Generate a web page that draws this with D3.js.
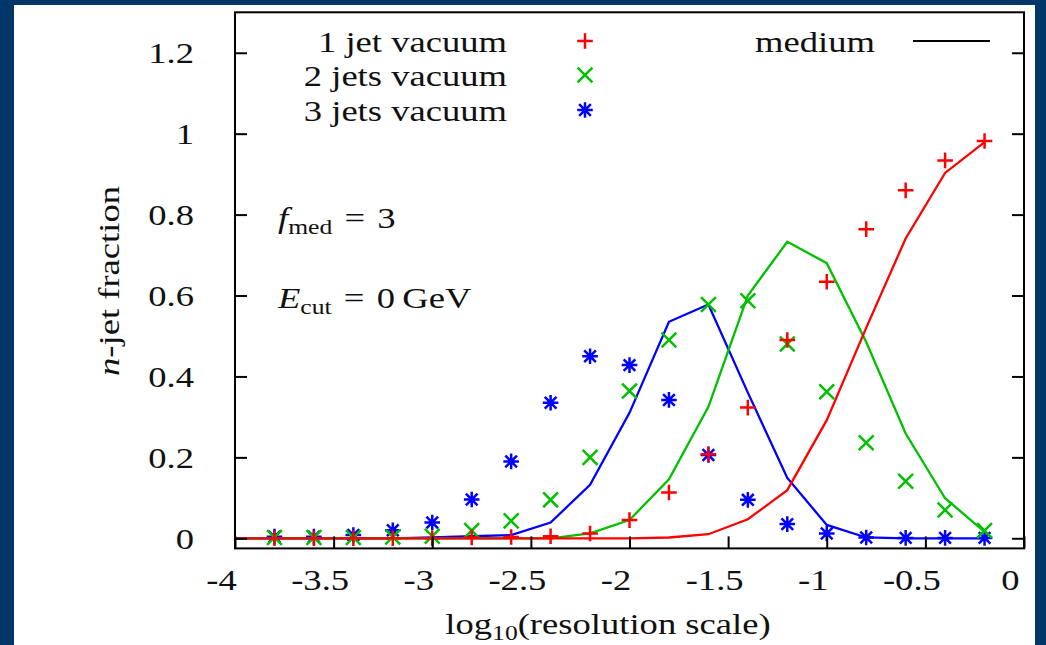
<!DOCTYPE html>
<html><head><meta charset="utf-8">
<script src="https://cdn.jsdelivr.net/npm/d3@7"></script>
<style>
body{margin:0;background:#fff}
svg{display:block}
text{font-family:"Liberation Serif","DejaVu Serif",serif;fill:#111}
</style>
</head><body><script>
// ---- data ----
const xVac = [-3.8,-3.6,-3.4,-3.2,-3.0,-2.8,-2.6,-2.4,-2.2,-2.0,-1.8,-1.6,-1.4,-1.2,-1.0,-0.8,-0.6,-0.4,-0.2];
const oneJetVac    = [0,0,0,0,0,0.002,0.003,0.005,0.012,0.045,0.113,0.208,0.323,0.49,0.634,0.764,0.86,0.934,0.982];
const twoJetsVac   = [0.002,0.002,0.002,0.003,0.005,0.019,0.043,0.095,0.20,0.364,0.49,0.578,0.587,0.48,0.362,0.236,0.141,0.07,0.019];
const threeJetsVac = [0.004,0.004,0.008,0.02,0.039,0.096,0.19,0.335,0.45,0.428,0.342,0.206,0.095,0.035,0.012,0.002,0.001,0.001,0.001];

const xMed = [-4.0,-3.8,-3.6,-3.4,-3.2,-3.0,-2.8,-2.6,-2.4,-2.2,-2.0,-1.8,-1.6,-1.4,-1.2,-1.0,-0.8,-0.6,-0.4,-0.2];
const oneJetMed    = [0,0,0,0,0,0,0,0,0,0,0,0.002,0.01,0.047,0.119,0.292,0.52,0.741,0.903,0.979];
const twoJetsMed   = [0,0,0,0,0,0,0,0,0,0.012,0.045,0.146,0.325,0.60,0.733,0.68,0.485,0.259,0.099,0.016];
const threeJetsMed = [0,0,0,0,0,0.002,0.005,0.008,0.039,0.132,0.31,0.535,0.578,0.36,0.149,0.033,0.002,0,0,0];

const xTicks = [-4,-3.5,-3,-2.5,-2,-1.5,-1,-0.5,0];
const xTickLabels = ["-4","-3.5","-3","-2.5","-2","-1.5","-1","-0.5","0"];
const yTicks = [0,0.2,0.4,0.6,0.8,1,1.2];
const yTickLabels = ["0","0.2","0.4","0.6","0.8","1","1.2"];

const seriesNames = ["1 jet vacuum","2 jets vacuum","3 jets vacuum"];
const colors = ["#ff0000","#00c000","#0000ff"];
const symbols = ["plus","cross","star"];

// ---- layout ----
const W = 1046, H = 645;
const FS = 30, SX = 1.22;
const svg = d3.select("body").append("svg").attr("width",W).attr("height",H);
svg.append("rect").attr("width",W).attr("height",H).attr("fill","#003768");
svg.append("rect").attr("x",14).attr("y",5).attr("width",1021).attr("height",H-5).attr("fill","#fff");

const x = d3.scaleLinear().domain([-4,0]).range([235,1024]);
const y = d3.scaleLinear().domain([-0.025,1.3]).range([548.4,12.3]);

svg.append("defs").append("clipPath").attr("id","clip")
  .append("rect").attr("x",235).attr("y",12.3).attr("width",789).attr("height",536.1);

function stext(parent, px, py, anchor, rot){
  return parent.append("text")
    .attr("transform",`translate(${px},${py})${rot?` rotate(${rot})`:""} scale(${SX},1)`)
    .attr("text-anchor",anchor).attr("font-size",FS);
}

// lines (medium)
const plot = svg.append("g").attr("clip-path","url(#clip)");
const line = d3.line().x(d=>x(d[0])).y(d=>y(d[1]));
const medSeries = [threeJetsMed, twoJetsMed, oneJetMed];
const medColors = [colors[2], colors[1], colors[0]];
medSeries.forEach((s,i)=>{
  plot.append("path").datum(xMed.map((xv,j)=>[xv,s[j]]))
    .attr("d",line).attr("fill","none").attr("stroke",medColors[i])
    .attr("stroke-width",2.3).attr("stroke-linejoin","miter");
});

// marker drawing
function markerPath(type, r){
  const a = r, b = r*0.95;
  if(type==="plus") return `M${-a},0H${a}M0,${-a}V${a}`;
  if(type==="cross") return `M${-b},${-b}L${b},${b}M${-b},${b}L${b},${-b}`;
  return `M${-a},0H${a}M0,${-a}V${a}M${-a*0.75},${-a*0.75}L${a*0.75},${a*0.75}M${-a*0.75},${a*0.75}L${a*0.75},${-a*0.75}`;
}
const vacSeries = [oneJetVac, twoJetsVac, threeJetsVac];
[2,1,0].forEach(i=>{
  plot.append("g").selectAll("path").data(xVac.map((xv,j)=>[xv,vacSeries[i][j]]))
    .join("path")
    .attr("transform",d=>`translate(${x(d[0])},${y(d[1])})`)
    .attr("d",markerPath(symbols[i], 7.8))
    .attr("fill","none").attr("stroke",colors[i]).attr("stroke-width",2.5);
});

// axes
const axB = svg.append("g").attr("transform",`translate(0,548.4)`)
  .call(d3.axisBottom(x).tickValues(xTicks).tickFormat((d,i)=>xTickLabels[i]).tickSizeInner(-12).tickSizeOuter(0).tickPadding(0));
axB.select(".domain").remove();
axB.selectAll(".tick line").attr("stroke","#000").attr("stroke-width",2);
axB.selectAll(".tick text").attr("x",0).attr("y",0).attr("dy",0)
  .attr("transform",`translate(-14,42) scale(${SX},1)`).attr("font-size",FS).attr("font-family",null);

const axL = svg.append("g").attr("transform",`translate(235,0)`)
  .call(d3.axisLeft(y).tickValues(yTicks).tickFormat((d,i)=>yTickLabels[i]).tickSizeInner(-12).tickSizeOuter(0).tickPadding(0));
axL.select(".domain").remove();
axL.selectAll(".tick line").attr("stroke","#000").attr("stroke-width",2);
axL.selectAll(".tick text").attr("x",0).attr("y",0).attr("dy","0.33em")
  .attr("transform",`translate(-41,0) scale(${SX},1)`).attr("font-size",FS).attr("font-family",null);

const axR = svg.append("g").attr("transform",`translate(1024,0)`)
  .call(d3.axisRight(y).tickValues(yTicks).tickFormat("").tickSizeInner(-12).tickSizeOuter(0));
axR.select(".domain").remove();
axR.selectAll(".tick line").attr("stroke","#000").attr("stroke-width",2);

// border
svg.append("rect").attr("x",235).attr("y",12.3).attr("width",789).attr("height",536.1)
  .attr("fill","none").attr("stroke","#000").attr("stroke-width",2);

// legend
const legY = [41,75,110];
seriesNames.forEach((n,i)=>{
  stext(svg,507,legY[i]+11,"end").text(n);
  svg.append("path").attr("transform",`translate(585,${legY[i]})`)
    .attr("d",markerPath(symbols[i],7.8)).attr("fill","none")
    .attr("stroke",colors[i]).attr("stroke-width",2.5);
});
stext(svg,875,52,"end").text("medium");
svg.append("line").attr("x1",913).attr("x2",990).attr("y1",41).attr("y2",41)
  .attr("stroke","#000").attr("stroke-width",2);

// annotations
const t1 = stext(svg,278,228,"start");
t1.append("tspan").attr("font-style","italic").text("f");
t1.append("tspan").attr("font-size",FS*0.7).attr("dy",6).text("med");
t1.append("tspan").attr("dy",-6).text("\u2004=\u20043");

const t2 = stext(svg,278,308,"start");
t2.append("tspan").attr("font-style","italic").text("E");
t2.append("tspan").attr("font-size",FS*0.7).attr("dy",6).text("cut");
t2.append("tspan").attr("dy",-6).text("\u2004=\u20040\u2009GeV");

// axis titles
const xt = stext(svg,608,634,"middle");
xt.append("tspan").text("log");
xt.append("tspan").attr("font-size",FS*0.7).attr("dy",6).text("10");
xt.append("tspan").attr("dy",-6).text("(resolution scale)");

const yt = svg.append("text").attr("transform",`translate(119,281) rotate(-90) scale(${SX},1)`)
  .attr("text-anchor","middle").attr("font-size",FS);
yt.append("tspan").attr("font-style","italic").text("n");
yt.append("tspan").text("-jet fraction");
</script></body></html>
